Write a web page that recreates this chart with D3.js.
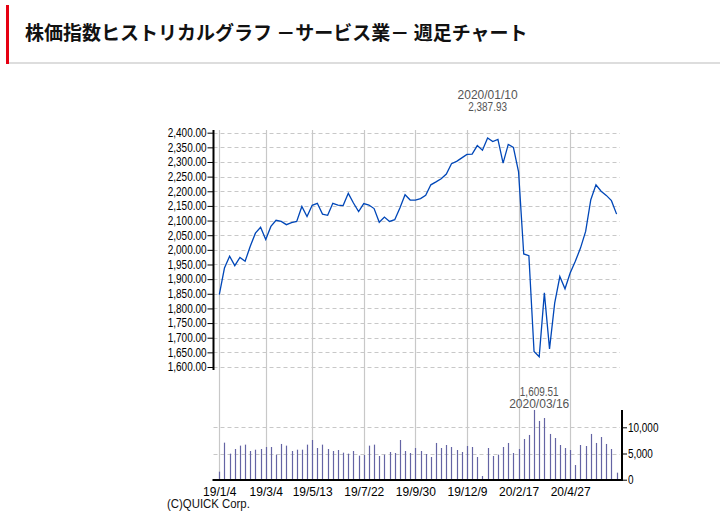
<!DOCTYPE html>
<html lang="ja">

<head>
    <meta charset="UTF-8">
    <title>株価指数ヒストリカルグラフ －サービス業－ 週足チャート</title>
    <script src="https://d3js.org/d3.v7.min.js"></script>
    <style>
        * {
            margin: 0;
            padding: 0;
            box-sizing: border-box;
        }

        body {
            width: 720px;
            height: 528px;
            background-color: #ffffff;
            overflow: hidden;
        }

        .titulo {
            font-family: "Noto Sans CJK JP", sans-serif;
            font-weight: bold;
            font-size: 19px;
            fill: #111;
        }

        .eje text,
        .nota {
            font-family: "Liberation Sans", Arial, sans-serif;
            font-size: 12px;
        }
    </style>
</head>

<body>
    <div id="chart"></div>
    <script>
        // semanas (etiquetas del eje x)
        const weeks = [
            "19/1/4", "19/1/7", "19/1/14", "19/1/21", "19/1/28", "19/2/4", "19/2/11", "19/2/18", "19/2/25",
            "19/3/4", "19/3/11", "19/3/18", "19/3/25", "19/4/1", "19/4/8", "19/4/15", "19/4/22", "19/5/6",
            "19/5/13", "19/5/20", "19/5/27", "19/6/3", "19/6/10", "19/6/17", "19/6/24", "19/7/1", "19/7/8",
            "19/7/15", "19/7/22", "19/7/29", "19/8/5", "19/8/12", "19/8/19", "19/8/26", "19/9/2", "19/9/9",
            "19/9/16", "19/9/23", "19/9/30", "19/10/7", "19/10/14", "19/10/21", "19/10/28", "19/11/4",
            "19/11/11", "19/11/18", "19/11/25", "19/12/2", "19/12/9", "19/12/16", "19/12/23", "19/12/30",
            "20/1/6", "20/1/13", "20/1/20", "20/1/27", "20/2/3", "20/2/10", "20/2/17", "20/2/24", "20/3/2",
            "20/3/9", "20/3/16", "20/3/23", "20/3/30", "20/4/6", "20/4/13", "20/4/20", "20/4/27", "20/5/4",
            "20/5/11", "20/5/18", "20/5/25", "20/6/1", "20/6/8", "20/6/15", "20/6/22", "20/6/29"
        ];

        // cierre semanal del índice
        const closeValues = [
            1847, 1938, 1978, 1946, 1974, 1961, 2012, 2057, 2077, 2035,
            2080, 2101, 2097, 2086, 2093, 2097, 2148, 2114, 2152, 2159,
            2122, 2118, 2159, 2153, 2151, 2193, 2160, 2131, 2158, 2153,
            2141, 2094, 2112, 2097, 2103, 2143, 2188, 2170, 2170, 2175,
            2186, 2222, 2232, 2243, 2259, 2294, 2302, 2314, 2326, 2327,
            2356, 2340, 2382, 2370, 2377, 2296, 2360, 2350, 2266, 1986,
            1980, 1653, 1635, 1853, 1662, 1818, 1909, 1867, 1921, 1961,
            2006, 2063, 2171, 2222, 2200, 2186, 2168, 2122
        ];

        // volumen semanal
        const volumeValues = [
            1530, 7070, 4970, 5860, 6500, 6690, 5480, 5730, 5860, 6240,
            6240, 4780, 6820, 6500, 5480, 5730, 5730, 6690, 7580, 6050,
            6690, 5860, 5480, 5670, 5160, 4970, 5480, 4590, 4710, 6500,
            6690, 4520, 4780, 5290, 5100, 7580, 5480, 5100, 6050, 5480,
            4900, 4330, 7010, 6050, 6620, 6240, 5670, 5290, 6430, 6240,
            4330, 700, 6050, 4520, 4780, 6240, 7010, 5100, 5860, 7770,
            8540, 13310, 11210, 11780, 8730, 7960, 6620, 6050, 5670, 2800,
            6620, 6430, 8730, 7010, 8150, 6820, 5860, 1340
        ];

        const tickWeeks = ["19/1/4", "19/3/4", "19/5/13", "19/7/22", "19/9/30", "19/12/9", "20/2/17", "20/4/27"];
        const priceTicks = [1600, 1650, 1700, 1750, 1800, 1850, 1900, 1950, 2000, 2050, 2100, 2150, 2200, 2250, 2300, 2350, 2400];
        const volumeTicks = [0, 5000, 10000];

        // máximo y mínimo
        const highNote = { week: "20/1/6", date: "2020/01/10", value: "2,387.93" };
        const lowNote = { week: "20/3/16", date: "2020/03/16", value: "1,609.51" };

        // las cifras van un poco estrechas, como en el original
        const narrow = 0.83;

        const svg = d3.select("#chart")
            .append("svg")
            .attr("width", 720)
            .attr("height", 528);

        // cabecera
        svg.append("rect").attr("x", 6).attr("y", 5).attr("width", 3).attr("height", 59).attr("fill", "#e60012");
        svg.append("rect").attr("x", 9).attr("y", 62).attr("width", 711).attr("height", 2).attr("fill", "#dddddd");
        svg.append("text")
            .attr("class", "titulo")
            .attr("x", 25)
            .attr("y", 40)
            .text("株価指数ヒストリカルグラフ －サービス業－ 週足チャート");

        const left = 213.5, right = 620;
        const x = d3.scalePoint().domain(weeks).range([219.3, 616.6]);
        const y = d3.scaleLinear().domain([1600, 2400]).range([367, 132.7]);
        const yVol = d3.scaleLinear().domain([0, 5000]).range([479.7, 453.5]);

        // rejilla vertical
        svg.append("g")
            .selectAll("line")
            .data(tickWeeks)
            .join("line")
            .attr("x1", d => Math.round(x(d)) + 0.5)
            .attr("x2", d => Math.round(x(d)) + 0.5)
            .attr("y1", 130)
            .attr("y2", 480)
            .attr("stroke", "#c8c8c8")
            .attr("stroke-width", 1.2);

        // rejilla horizontal (precio y volumen)
        svg.append("g")
            .selectAll("line")
            .data(priceTicks)
            .join("line")
            .attr("x1", left)
            .attr("x2", right)
            .attr("y1", d => Math.round(y(d)) + 0.5)
            .attr("y2", d => Math.round(y(d)) + 0.5)
            .attr("stroke", "#c8c8c8")
            .attr("stroke-dasharray", "4,3");

        svg.append("g")
            .selectAll("line")
            .data(volumeTicks.filter(d => d > 0))
            .join("line")
            .attr("x1", left)
            .attr("x2", right)
            .attr("y1", d => Math.round(yVol(d)) + 0.5)
            .attr("y2", d => Math.round(yVol(d)) + 0.5)
            .attr("stroke", "#c8c8c8")
            .attr("stroke-dasharray", "4,3");

        // barras de volumen
        svg.append("g")
            .selectAll("line")
            .data(volumeValues)
            .join("line")
            .attr("x1", (d, i) => Math.round(x(weeks[i])) + 0.5)
            .attr("x2", (d, i) => Math.round(x(weeks[i])) + 0.5)
            .attr("y1", yVol(0))
            .attr("y2", d => yVol(d))
            .attr("stroke", "#6464a4")
            .attr("stroke-width", 1.2);

        // línea del índice
        svg.append("path")
            .datum(closeValues)
            .attr("fill", "none")
            .attr("stroke", "#0047b8")
            .attr("stroke-width", 1.3)
            .attr("d", d3.line()
                .x((d, i) => x(weeks[i]))
                .y(d => y(d)));

        // eje de precios
        const ejeY = svg.append("g")
            .attr("class", "eje")
            .attr("transform", `translate(${left},0)`)
            .call(d3.axisLeft(y).tickValues(priceTicks).tickFormat(d3.format(",.2f")).tickSize(6).tickSizeOuter(0).tickPadding(1));
        ejeY.select(".domain").attr("d", "M0,130V370").attr("stroke-width", 2);
        ejeY.selectAll(".tick text").attr("x", -7 / narrow).attr("transform", `scale(${narrow},1)`);

        // eje de volumen (derecha)
        const ejeV = svg.append("g")
            .attr("class", "eje")
            .attr("transform", "translate(622,0)")
            .call(d3.axisRight(yVol).tickValues(volumeTicks).tickFormat(d3.format(",")).tickSize(5).tickSizeOuter(0).tickPadding(1));
        ejeV.select(".domain").attr("d", "M0,410V480").attr("stroke-width", 2);
        ejeV.selectAll(".tick text").attr("x", 6 / narrow).attr("transform", `scale(${narrow},1)`);

        // eje de fechas
        const ejeX = svg.append("g")
            .attr("class", "eje")
            .attr("transform", "translate(0,480)")
            .call(d3.axisBottom(x).tickValues(tickWeeks).tickSize(0).tickPadding(7));
        ejeX.select(".domain").attr("d", `M${left - 1},0H623`).attr("stroke-width", 2);

        // notas de máximo y mínimo
        const notas = [
            { x: x(highNote.week), y: 99, t: highNote.date, s: 1 },
            { x: x(highNote.week), y: 110.5, t: highNote.value, s: narrow },
            { x: x(lowNote.week), y: 395.5, t: lowNote.value, s: narrow },
            { x: x(lowNote.week), y: 407.5, t: lowNote.date, s: 1 }
        ];
        svg.append("g")
            .selectAll("text")
            .data(notas)
            .join("text")
            .attr("class", "nota")
            .attr("transform", d => `translate(${d.x},${d.y}) scale(${d.s},1)`)
            .attr("text-anchor", "middle")
            .attr("fill", "#555")
            .text(d => d.t);

        svg.append("text")
            .attr("class", "nota")
            .attr("transform", "translate(167,507.5) scale(0.95,1)")
            .attr("fill", "#111")
            .text("(C)QUICK Corp.");
    </script>
</body>

</html>
